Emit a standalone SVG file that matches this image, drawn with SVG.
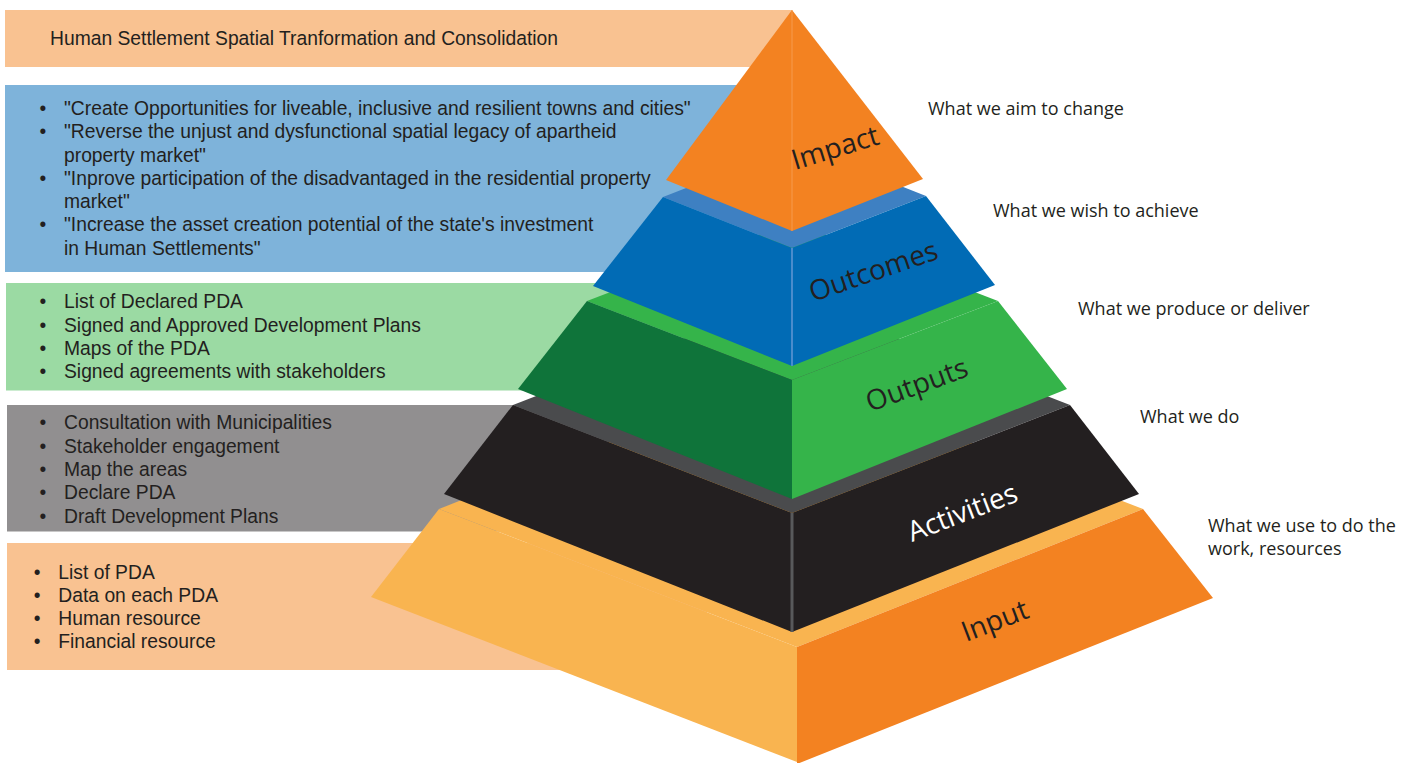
<svg xmlns="http://www.w3.org/2000/svg" width="1418" height="763" viewBox="0 0 1418 763">
<style>
.lt{font-family:"Liberation Sans",Arial,sans-serif;font-size:19.3px;fill:#231f20}
.rt{font-family:"Open Sans","Noto Sans",sans-serif;font-size:18px;fill:#231f20}
.pt{font-family:"Open Sans","Noto Sans",sans-serif;font-size:28px;fill:#231f20}
</style>
<rect width="1418" height="763" fill="#ffffff"/>
<g id="box-impact">
<rect x="5" y="10" width="787" height="57" fill="#f9c291"/>
<text class="lt" x="50" y="45">Human Settlement Spatial Tranformation and Consolidation</text>
</g>
<g id="box-outcomes">
<rect x="5" y="85" width="775" height="187" fill="#7eb3da"/>
<text class="lt" x="39.5" y="115">•</text><text class="lt" x="64" y="115">"Create Opportunities for liveable, inclusive and resilient towns and cities"</text>
<text class="lt" x="39.5" y="138">•</text><text class="lt" x="64" y="138">"Reverse the unjust and dysfunctional spatial legacy of apartheid</text>
<text class="lt" x="64" y="161.5">property market"</text>
<text class="lt" x="39.5" y="185">•</text><text class="lt" x="64" y="185">"Inprove participation of the disadvantaged in the residential property</text>
<text class="lt" x="64" y="208">market"</text>
<text class="lt" x="39.5" y="231">•</text><text class="lt" x="64" y="231">"Increase the asset creation potential of the state's investment</text>
<text class="lt" x="64" y="255">in Human Settlements"</text>
</g>
<g id="box-outputs">
<rect x="6" y="283" width="700" height="107.5" fill="#9bdaa3"/>
<text class="lt" x="39.5" y="308">•</text><text class="lt" x="64" y="308">List of Declared PDA</text>
<text class="lt" x="39.5" y="331.5">•</text><text class="lt" x="64" y="331.5">Signed and Approved Development Plans</text>
<text class="lt" x="39.5" y="355">•</text><text class="lt" x="64" y="355">Maps of the PDA</text>
<text class="lt" x="39.5" y="378">•</text><text class="lt" x="64" y="378">Signed agreements with stakeholders</text>
</g>
<g id="box-activities">
<rect x="7" y="405" width="700" height="126.5" fill="#918f90"/>
<text class="lt" x="39.5" y="429">•</text><text class="lt" x="64" y="429">Consultation with Municipalities</text>
<text class="lt" x="39.5" y="452.5">•</text><text class="lt" x="64" y="452.5">Stakeholder engagement</text>
<text class="lt" x="39.5" y="476">•</text><text class="lt" x="64" y="476">Map the areas</text>
<text class="lt" x="39.5" y="499">•</text><text class="lt" x="64" y="499">Declare PDA</text>
<text class="lt" x="39.5" y="522.5">•</text><text class="lt" x="64" y="522.5">Draft Development Plans</text>
</g>
<g id="box-input">
<rect x="7" y="543" width="700" height="127" fill="#f9c291"/>
<text class="lt" x="33.7" y="579">•</text><text class="lt" x="58.3" y="579">List of PDA</text>
<text class="lt" x="33.7" y="602">•</text><text class="lt" x="58.3" y="602">Data on each PDA</text>
<text class="lt" x="33.7" y="625">•</text><text class="lt" x="58.3" y="625">Human resource</text>
<text class="lt" x="33.7" y="648">•</text><text class="lt" x="58.3" y="648">Financial resource</text>
</g>
<g id="layer-input">
<polygon points="439,509 797,647 1143,509 785,371" fill="#f9b450"/>
<polygon points="439,509 797,647 797,762 371,597" fill="#f9b450"/>
<polygon points="797,647 1143,509 1213,598 797,764" fill="#f38221"/>
<text class="pt" transform="translate(966,642) rotate(-21)">Input</text>
</g>
<g id="layer-activities">
<polygon points="513,405 792,513 1070,405 791,297" fill="#4a4b4d"/>
<polygon points="513,405 792,513 792,632 444,494" fill="#231f20"/>
<polygon points="792,513 1070,405 1139,494 792,632" fill="#231f20"/>
<line x1="792" y1="513" x2="792" y2="632" stroke="#58595b" stroke-width="3"/>
<text class="pt" fill="#ffffff" style="fill:#ffffff" transform="translate(912,542) rotate(-21)">Activities</text>
</g>
<g id="layer-outputs">
<polygon points="587,301 792,380 998,301 793,222" fill="#35b44a"/>
<polygon points="587,301 792,380 792,499 518,389" fill="#0f743a"/>
<polygon points="792,380 998,301 1067,389 792,499" fill="#35b44a"/>
<text class="pt" transform="translate(870,412) rotate(-20)">Outputs</text>
</g>
<g id="layer-outcomes">
<polygon points="663,197 792,248 926,196 797,145" fill="#3e80c2"/>
<polygon points="663,197 792,248 792,366 593,286" fill="#016bb5"/>
<polygon points="792,248 926,196 995,285 792,366" fill="#016bb5"/>
<line x1="792" y1="248" x2="792" y2="366" stroke="#4a8ccc" stroke-width="2"/>
<text class="pt" transform="translate(813,302) rotate(-19)">Outcomes</text>
</g>
<g id="layer-impact">
<polygon points="792,10 666,180 792,231" fill="#f38221"/>
<polygon points="792,10 923,179 792,231" fill="#f38221"/>
<line x1="792" y1="10" x2="792" y2="231" stroke="#f59a4e" stroke-width="1"/>
<text class="pt" transform="translate(795,170) rotate(-17)">Impact</text>
</g>
<g id="labels">
<text class="rt" x="928" y="115">What we aim to change</text>
<text class="rt" x="993" y="217">What we wish to achieve</text>
<text class="rt" x="1078" y="315">What we produce or deliver</text>
<text class="rt" x="1140" y="423">What we do</text>
<text class="rt" x="1208" y="532">What we use to do the</text>
<text class="rt" x="1208" y="555">work, resources</text>
</g>
<g id="connectors"/>
</svg>
